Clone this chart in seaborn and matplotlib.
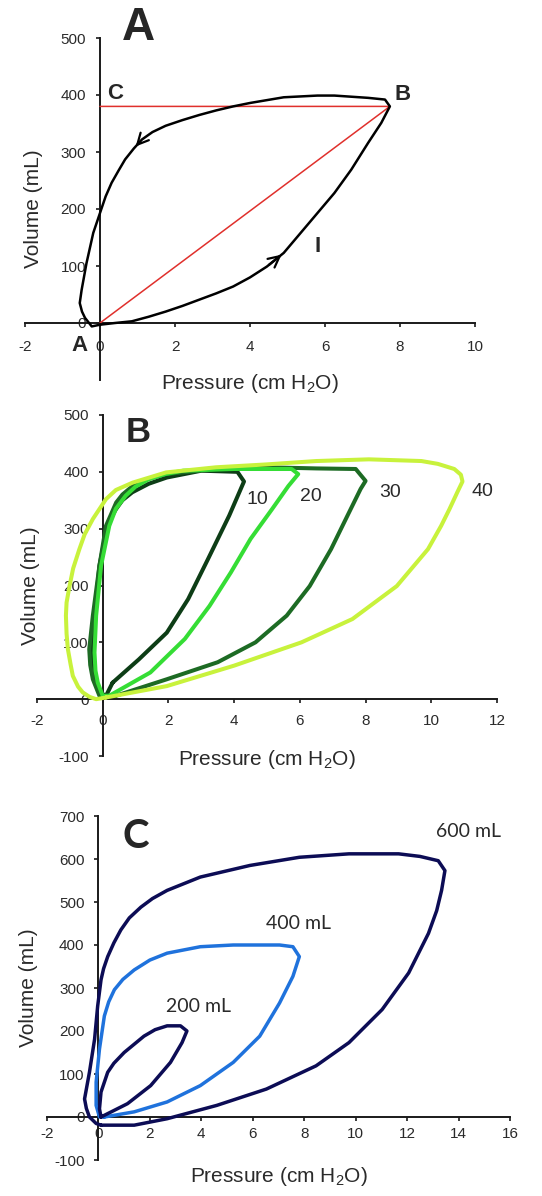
import matplotlib
matplotlib.use("Agg")
import matplotlib.pyplot as plt
import seaborn as sns

# ---- panel A: single loop, pressure (cm H2O) / volume (mL)
a_pres = [0.0, 0.4, 0.85, 1.3, 1.75, 2.2, 2.65, 3.1, 3.55, 4.0, 4.45, 4.9, 5.35, 5.8, 6.25,
          6.7, 7.15, 7.5, 7.73,
          7.6, 7.15, 6.25, 5.8, 4.9, 4.0, 3.55, 3.1, 2.65, 2.2, 1.75, 1.4, 1.12, 0.9, 0.67,
          0.5, 0.31, 0.15, 0.0, -0.18, -0.36, -0.49, -0.54, -0.48, -0.4, -0.22, 0.0]
a_vol = [-3, 0, 3, 11, 20, 30, 41, 52, 64, 80, 99, 123, 158, 193, 228,
         269, 316, 351, 380,
         392, 395, 399, 399, 396, 386, 380, 373, 365, 356, 346, 335, 322, 306, 287,
         268, 246, 222, 193, 158, 105, 58, 35, 20, 9, -6, -3]
a_peak = (7.73, 380)

# ---- panel B: loops at 10/20/30/40
b10_pres = [0.3, 1.1, 1.95, 2.6, 3.2, 3.85, 4.3, 4.1, 3.0, 1.95, 1.4, 0.9, 0.6, 0.4, 0.2,
            0.1, -0.1, -0.2, -0.3, -0.35, -0.3, -0.25, -0.1, 0.1, 0.3]
b10_vol = [29, 70, 117, 176, 246, 323, 383, 400, 402, 390, 379, 364, 350, 334, 314,
           293, 235, 176, 117, 70, 50, 35, 12, 6, 29]
b20_pres = [0.2, 1.45, 2.5, 3.25, 3.9, 4.5, 5.15, 5.65, 5.95, 5.75, 4.0, 2.45, 1.9, 1.4,
            1.0, 0.7, 0.4, 0.2, -0.05, -0.2, -0.25, -0.22, -0.15, 0.0, 0.2]
b20_vol = [6, 47, 106, 164, 223, 282, 334, 375, 396, 405, 405, 402, 396, 387,
           374, 358, 335, 305, 235, 147, 82, 50, 29, 6, 6]
b30_pres = [0.4, 1.95, 3.5, 4.65, 5.6, 6.3, 6.95, 7.45, 7.85, 8.0, 7.7, 6.5, 5.0, 3.45,
            1.93, 1.35, 0.91, 0.6, 0.41, 0.1, -0.1, -0.3, -0.41, -0.38, -0.3, -0.1, 0.4]
b30_vol = [6, 35, 65, 100, 147, 199, 264, 323, 370, 384, 405, 406, 408, 405,
           396, 387, 375, 360, 346, 305, 235, 147, 88, 60, 35, 6, 6]
b40_pres = [0.1, 1.95, 4.0, 6.05, 7.6, 8.95, 9.9, 10.3, 10.55, 10.8, 10.95, 10.9, 10.7,
            10.2, 9.7, 8.1, 6.5, 4.97, 3.45, 1.93, 0.91, 0.4, 0.1, -0.3, -0.55, -0.71,
            -0.9, -1.01, -1.1, -1.12, -1.1, -1.06, -0.98, -0.91, -0.75, -0.61, -0.4, -0.2, 0.1]
b40_vol = [3, 23, 59, 100, 141, 199, 264, 305, 334, 365, 383, 395, 405,
           414, 419, 422, 419, 413, 408, 399, 381, 368, 352, 317, 290, 264,
           230, 199, 170, 147, 115, 88, 62, 41, 22, 12, 4, 0, 3]
b_labels = ["10", "20", "30", "40"]

# ---- panel C: loops at 200/400/600 mL
c600_pres = [0.1, 1.39, 2.67, 4.6, 6.53, 8.46, 9.74, 11.03, 12.06, 12.83, 13.15, 13.34, 13.47,
             13.21, 12.5, 11.67, 9.74, 7.81, 5.89, 3.96, 2.67, 2.1, 1.65, 1.2, 0.87, 0.6,
             0.36, 0.2, 0.1, -0.03, -0.15, -0.35, -0.54, -0.47, -0.35, -0.09, 0.1]
c600_vol = [-19, -19, -4, 27, 65, 119, 173, 250, 335, 427, 480, 527, 573,
            596, 606, 612, 612, 604, 585, 558, 527, 508, 488, 463, 435, 405,
            373, 345, 319, 258, 181, 104, 42, 20, 0, -15, -19]
c400_pres = [0.23, 1.39, 2.67, 3.96, 5.24, 6.27, 7.04, 7.56, 7.81, 7.56, 7.04, 5.24, 3.96,
             2.67, 2.0, 1.39, 0.95, 0.62, 0.4, 0.23, 0.04, -0.09, -0.09, 0.04, 0.23]
c400_vol = [0, 12, 35, 73, 127, 188, 265, 327, 373, 396, 400, 400, 396,
            381, 365, 342, 320, 296, 268, 235, 158, 81, 27, 0, 0]
c200_pres = [0.1, 1.13, 2.03, 2.8, 3.25, 3.44, 3.19, 2.67, 2.2, 1.77, 1.0, 0.6, 0.36, 0.1,
             0.04, 0.1]
c200_vol = [0, 31, 73, 127, 173, 200, 212, 212, 203, 188, 150, 125, 104, 58, 19, 0]
c_labels = ["200 mL", "400 mL", "600 mL"]

sns.set_style("ticks")
plt.rcParams["font.family"] = ["Liberation Sans", "DejaVu Sans"]
plt.rcParams["mathtext.fontset"] = "custom"
plt.rcParams["mathtext.rm"] = "Liberation Sans"
plt.rcParams["mathtext.it"] = "Liberation Sans"
plt.rcParams["axes.unicode_minus"] = False

W, H = 542, 1196
fig = plt.figure(figsize=(W / 100, H / 100), dpi=100)


def add_axes(left, right, top, bottom):
    # pixel box of the plotting area -> figure fraction
    return fig.add_axes([left / W, 1 - bottom / H, (right - left) / W, (bottom - top) / H])


def loop(ax, p, v, color, lw):
    sns.lineplot(x=p, y=v, sort=False, estimator=None, color=color, lw=lw,
                 ax=ax, zorder=3, solid_joinstyle="round", solid_capstyle="round")


def style(ax, xlim, ylim, xticks, yticks, pad, ylab_x, xlab_y):
    ax.set_xlim(*xlim)
    ax.set_ylim(*ylim)
    ax.set_xticks(xticks)
    ax.set_yticks(yticks)
    for s in ["top", "right"]:
        ax.spines[s].set_visible(False)
    for s in ["left", "bottom"]:
        ax.spines[s].set_position(("data", 0))
        ax.spines[s].set_linewidth(1.4)
        ax.spines[s].set_color("#1a1a1a")
    ax.tick_params(direction="out", length=3, width=1.2, color="#1a1a1a",
                   labelsize=11, labelcolor="#2a2a2a")
    ax.tick_params(axis="x", pad=pad)
    ax.tick_params(axis="y", pad=7)
    ax.set_xlabel("Pressure (cm H$_2$O)", fontsize=15, color="#2a2a2a")
    ax.set_ylabel("Volume (mL)", fontsize=15, color="#2a2a2a")
    ax.xaxis.set_label_coords(0.5, xlab_y)
    ax.yaxis.set_label_coords(ylab_x, 0.5)
    ax.patch.set_alpha(0)


# ---- A
axA = add_axes(25, 475, 38, 380)
sns.lineplot(x=[0, a_peak[0], 0], y=[0, a_peak[1], a_peak[1]], sort=False,
             estimator=None, color="#e0302c", lw=1.1, ax=axA, zorder=2.8)
loop(axA, a_pres, a_vol, "black", 1.8)
for i, j in [(10, 11), (31, 32)]:
    axA.annotate("", xy=(a_pres[j], a_vol[j]), xytext=(a_pres[i], a_vol[i]),
                 arrowprops=dict(arrowstyle="->", color="black", lw=1.6,
                                 mutation_scale=20), zorder=4)
style(axA, (-2, 10), (-100, 500), range(-2, 11, 2), range(0, 501, 100), 9, 0.04, 0.023)
for txt, x, y in [("C", 0.4, 402), ("B", 8.08, 400), ("I", 5.8, 135), ("A", -0.56, -40)]:
    axA.text(x, y, txt, fontsize=16, fontweight="bold", color="#262626",
             ha="center", va="center", zorder=5)
axA.text(0.253, 1.03, "A", transform=axA.transAxes, fontsize=33, fontweight="bold",
         ha="center", va="center")

# ---- B
axB = add_axes(37, 497, 415, 756)
b_loops = [(b10_pres, b10_vol, "#0d3d16"), (b30_pres, b30_vol, "#1d6b24"),
           (b20_pres, b20_vol, "#35dd35"), (b40_pres, b40_vol, "#c8f23c")]
for p, v, c in b_loops:
    loop(axB, p, v, c, 2.9)
style(axB, (-2, 12), (-100, 500), range(-2, 13, 2), range(-100, 501, 100), 8, 0.0065, 0.023)
b_label_pos = [(4.7, 352), (6.35, 356), (8.75, 363), (11.55, 365)]
for lab, (x, y) in zip(b_labels, b_label_pos):
    axB.text(x, y, lab, fontsize=14, color="#2a2a2a", ha="center", va="center", zorder=5)
axB.text(0.22, 0.95, "B", transform=axB.transAxes, fontsize=25, fontweight="bold",
         ha="center", va="center")

# ---- C
axC = add_axes(47, 510, 816, 1160)
c_loops = [(c600_pres, c600_vol, "#0c0c55"), (c400_pres, c400_vol, "#1f72dc"),
           (c200_pres, c200_vol, "#0c0c55")]
for p, v, c in c_loops:
    loop(axC, p, v, c, 2.5)
style(axC, (-2, 16), (-100, 700), range(-2, 17, 2), range(-100, 701, 100), 4, -0.019, -0.015)
c_label_pos = [(3.88, 258), (7.77, 449), (14.4, 663)]
for lab, (x, y) in zip(c_labels, c_label_pos):
    axC.text(x, y, lab, fontsize=14, family=["Lato", "DejaVu Sans"], color="#2a2a2a",
             ha="center", va="center", zorder=5)
axC.text(0.192, 0.939, "C", transform=axC.transAxes, fontsize=29, fontweight="bold",
         family=["Lato", "DejaVu Sans"], ha="center", va="center")

fig.savefig("out.png", dpi=100)
